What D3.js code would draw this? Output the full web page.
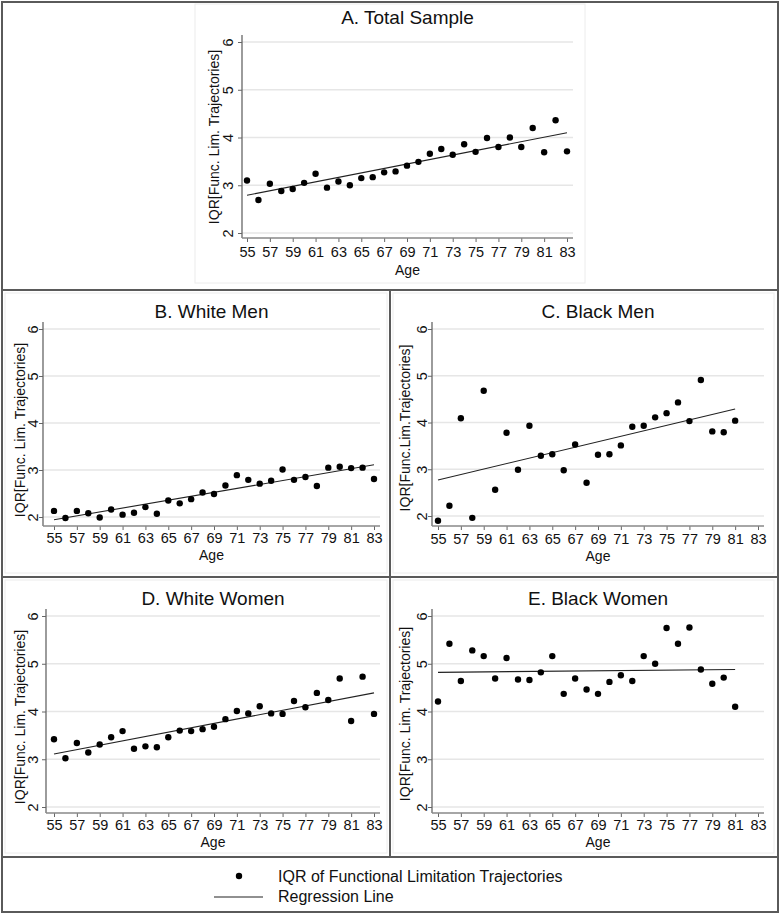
<!DOCTYPE html>
<html><head><meta charset="utf-8">
<script src="https://cdn.jsdelivr.net/npm/d3@7"></script>
<style>
body{margin:0;background:#fff}
svg{display:block;font-family:"Liberation Sans",Arial,Helvetica,sans-serif}
</style>
</head><body>
<svg id="chart" width="780" height="914"></svg>
<script>
// ---------------- data ----------------
const agesFull  = [55,56,57,58,59,60,61,62,63,64,65,66,67,68,69,70,71,72,73,74,75,76,77,78,79,80,81,82,83];
const agesShort = [55,56,57,58,59,60,61,62,63,64,65,66,67,68,69,70,71,72,73,74,75,76,77,78,79,80,81];
const xTickValues = [55,57,59,61,63,65,67,69,71,73,75,77,79,81,83];
const yTickValues = [2,3,4,5,6];

const totalSample = [3.10,2.69,3.03,2.88,2.92,3.05,3.24,2.95,3.08,3.00,3.15,3.17,3.27,3.29,3.41,3.49,3.66,3.76,3.64,3.86,3.70,3.99,3.80,4.00,3.80,4.20,3.69,4.36,3.71];
const whiteMen    = [2.13,1.98,2.13,2.08,1.99,2.16,2.05,2.09,2.21,2.07,2.35,2.29,2.38,2.52,2.49,2.67,2.89,2.79,2.71,2.77,3.01,2.79,2.85,2.66,3.05,3.07,3.04,3.05,2.81];
const blackMen    = [1.90,2.22,4.09,1.96,4.68,2.56,3.78,2.99,3.93,3.29,3.32,2.98,3.53,2.71,3.31,3.32,3.51,3.91,3.93,4.11,4.20,4.43,4.03,4.91,3.81,3.79,4.04];
const whiteWomen  = [3.42,3.02,3.34,3.14,3.31,3.46,3.59,3.22,3.27,3.25,3.46,3.60,3.59,3.63,3.68,3.84,4.01,3.96,4.11,3.96,3.95,4.22,4.09,4.39,4.24,4.69,3.80,4.73,3.95];
const blackWomen  = [4.21,5.42,4.64,5.28,5.16,4.69,5.12,4.67,4.66,4.82,5.16,4.37,4.69,4.46,4.37,4.62,4.76,4.64,5.16,5.00,5.75,5.42,5.76,4.88,4.58,4.71,4.10];

// regression line end points [age, value]
const regTotal      = [[55,2.79],[83,4.10]];
const regWhiteMen   = [[55,1.94],[83,3.11]];
const regBlackMen   = [[55,2.77],[81,4.29]];
const regWhiteWomen = [[55,3.11],[83,4.39]];
const regBlackWomen = [[55,4.82],[81,4.88]];

const panelTitles = ["A. Total Sample","B. White Men","C. Black Men","D. White Women","E. Black Women"];
const yTitles = ["IQR[Func. Lim. Trajectories]","IQR[Func. Lim. Trajectories]","IQR[Func.Lim.Trajectories]","IQR[Func. Lim. Trajectories]","IQR[Func. Lim. Trajectories]"];
const xTitle = "Age";
const legendLabels = ["IQR of Functional Limitation Trajectories","Regression Line"];

// ---------------- layout ----------------
const panels = [
  {title:panelTitles[0], yTitle:yTitles[0], ages:agesFull,  vals:totalSample, reg:regTotal,
   x0:247, x1:567, yTop:42,  yBot:233, axisX:242, axisY:238, tickBase:257, ageBase:275, titleBase:24,  yTitleX:219, yTitleY:137, yTickOff:9, box:[195,4,390,279]},
  {title:panelTitles[1], yTitle:yTitles[1], ages:agesFull,  vals:whiteMen, reg:regWhiteMen,
   x0:54,  x1:374, yTop:329, yBot:517, axisX:43,  axisY:526, tickBase:543, ageBase:560, titleBase:318, yTitleX:25,  yTitleY:430, yTickOff:5, box:[5,293,382,280]},
  {title:panelTitles[2], yTitle:yTitles[2], ages:agesShort, vals:blackMen, reg:regBlackMen,
   x0:438, x1:758, yTop:329, yBot:516, axisX:432, axisY:526, tickBase:544, ageBase:561, titleBase:318, yTitleX:410, yTitleY:428, yTickOff:5, box:[393,293,381,280]},
  {title:panelTitles[3], yTitle:yTitles[3], ages:agesFull,  vals:whiteWomen, reg:regWhiteWomen,
   x0:54,  x1:374, yTop:616, yBot:807, axisX:46,  axisY:813, tickBase:830, ageBase:847, titleBase:605, yTitleX:25,  yTitleY:717, yTickOff:8, box:[5,580,382,273]},
  {title:panelTitles[4], yTitle:yTitles[4], ages:agesShort, vals:blackWomen, reg:regBlackWomen,
   x0:438, x1:758, yTop:616, yBot:807, axisX:432, axisY:813, tickBase:830, ageBase:847, titleBase:605, yTitleX:410, yTitleY:714, yTickOff:5, box:[393,580,381,273]}
];

const svg = d3.select("#chart");
svg.append("rect").attr("width",780).attr("height",914).attr("fill","#fff");

function drawPanel(p){
  const g = svg.append("g");
  const x = d3.scaleLinear().domain([55,83]).range([p.x0,p.x1]);
  const y = d3.scaleLinear().domain([2,6]).range([p.yBot,p.yTop]);
  const right = p.x1 + 6;

  // faint graph-region frame
  g.append("rect").attr("x",p.box[0]).attr("y",p.box[1]).attr("width",p.box[2]).attr("height",p.box[3])
    .attr("fill","none").attr("stroke","#ececec").attr("stroke-width",1);

  // gridlines
  g.selectAll("line.grid").data(yTickValues).join("line").attr("class","grid")
    .attr("x1",p.axisX).attr("x2",right).attr("y1",d=>y(d)).attr("y2",d=>y(d))
    .attr("stroke","#e6e6e6").attr("stroke-width",1.5);

  // y axis
  const ya = g.append("g").attr("transform",`translate(${p.axisX},0)`)
    .call(d3.axisLeft(y).tickValues(yTickValues).tickSize(4).tickSizeOuter(0).tickFormat(d3.format("d")));
  ya.select(".domain").remove();
  ya.selectAll(".tick line").attr("stroke","#666");
  ya.selectAll(".tick text").attr("x",null).attr("dy",null)
    .attr("transform",`translate(${-p.yTickOff},0) rotate(-90)`)
    .attr("text-anchor","middle").attr("font-size",14.5).attr("fill","#111")
    .attr("font-family","Liberation Sans, Arial, sans-serif");

  // x axis
  const xa = g.append("g").attr("transform",`translate(0,${p.axisY})`)
    .call(d3.axisBottom(x).tickValues(xTickValues).tickSize(4).tickSizeOuter(0).tickFormat(d3.format("d")));
  xa.select(".domain").remove();
  xa.selectAll(".tick line").attr("stroke","#666");
  xa.selectAll(".tick text").attr("y",p.tickBase - p.axisY).attr("dy",null)
    .attr("font-size",14.5).attr("fill","#111").attr("font-family","Liberation Sans, Arial, sans-serif");

  // axis lines
  g.append("line").attr("x1",p.axisX).attr("x2",p.axisX).attr("y1",p.yTop-7).attr("y2",p.axisY)
    .attr("stroke","#666").attr("stroke-width",1.3);
  g.append("line").attr("x1",p.axisX).attr("x2",right).attr("y1",p.axisY).attr("y2",p.axisY)
    .attr("stroke","#888").attr("stroke-width",1.6);

  // regression line
  g.append("path").datum(p.reg)
    .attr("d",d3.line().x(d=>x(d[0])).y(d=>y(d[1])))
    .attr("stroke","#222").attr("stroke-width",1.1).attr("fill","none");

  // points
  g.selectAll("circle.pt").data(p.ages.map((a,i)=>[a,p.vals[i]])).join("circle").attr("class","pt")
    .attr("cx",d=>x(d[0])).attr("cy",d=>y(d[1])).attr("r",3.2).attr("fill","#000");

  // titles
  const cx = (p.axisX + right)/2;
  g.append("text").attr("x",cx).attr("y",p.titleBase).attr("text-anchor","middle")
    .attr("font-size",19).attr("fill","#111").text(p.title);
  g.append("text").attr("x",cx).attr("y",p.ageBase).attr("text-anchor","middle")
    .attr("font-size",14).attr("fill","#111").text(xTitle);
  g.append("text").attr("transform",`translate(${p.yTitleX},${p.yTitleY}) rotate(-90)`)
    .attr("text-anchor","middle").attr("font-size",14).attr("fill","#111").text(p.yTitle);
}
panels.forEach(drawPanel);

// ---------------- frames ----------------
const frame = svg.append("g").attr("stroke","#5a5a5a").attr("stroke-width",2).attr("fill","none");
frame.append("rect").attr("x",2).attr("y",2).attr("width",776).attr("height",910);
frame.append("line").attr("x1",2).attr("x2",778).attr("y1",290).attr("y2",290);
frame.append("line").attr("x1",390).attr("x2",390).attr("y1",290).attr("y2",857);
frame.append("line").attr("x1",2).attr("x2",778).attr("y1",577).attr("y2",577);
frame.append("line").attr("x1",2).attr("x2",778).attr("y1",857).attr("y2",857);

// ---------------- legend ----------------
const lg = svg.append("g");
lg.append("circle").attr("cx",239).attr("cy",876).attr("r",3.2).attr("fill","#000");
lg.append("line").attr("x1",214).attr("x2",263).attr("y1",897).attr("y2",897).attr("stroke","#222").attr("stroke-width",1.2);
lg.selectAll("text.lg").data(legendLabels).join("text").attr("class","lg")
  .attr("x",278).attr("y",(d,i)=>882+i*20).attr("font-size",16).attr("fill","#111").text(d=>d);
</script>
</body></html>
